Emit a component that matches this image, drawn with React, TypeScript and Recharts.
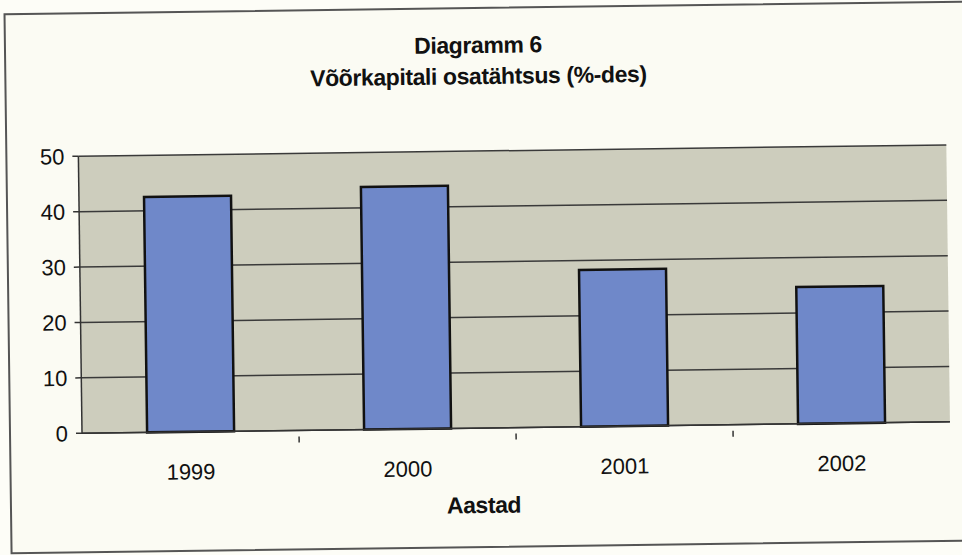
import React from 'react';
import { BarChart, Bar, XAxis, YAxis, CartesianGrid } from 'recharts';

const years = ['1999', '2000', '2001', '2002'];
const shares = [42.5, 43.8, 28.3, 24.7];
const yTicks = [0, 10, 20, 30, 40, 50];

const data = years.map((year, i) => ({ year, share: shares[i] }));

const FONT = 'Arial, "Liberation Sans", sans-serif';

// category label plus the Excel-style tick mark between categories
function YearTick(props: any) {
  const { x, y, payload, index } = props;
  const half = payload && payload.offset ? payload.offset : 0;
  return (
    <g>
      {index > 0 && (
        <line x1={x - half} x2={x - half} y1={y - 26} y2={y - 20} stroke="#333" strokeWidth={1.5} />
      )}
      <text x={x} y={y} dy="0.71em" textAnchor="middle" fontSize={22} fill="#111" fontFamily={FONT}>
        {payload.value}
      </text>
    </g>
  );
}

export default function App() {
  return (
    <div style={{ position: 'relative', width: 962, height: 555, background: '#fdfdf7', overflow: 'hidden' }}>
      <style>{`body { margin: 0; }`}</style>
      <div
        style={{
          position: 'absolute',
          left: 0,
          top: 0,
          width: 962,
          height: 555,
          transform: 'rotate(-0.75deg)',
          transformOrigin: '481px 277px',
        }}
      >
        <div
          style={{
            position: 'absolute',
            left: 7,
            top: 7,
            width: 975,
            height: 537,
            border: '2px solid #555',
            background: '#fbfbf3',
          }}
        />
        <div
          style={{
            position: 'absolute',
            left: 0,
            width: 962,
            top: 30,
            textAlign: 'center',
            fontFamily: FONT,
            fontWeight: 'bold',
            fontSize: 23,
            letterSpacing: '-0.4px',
            lineHeight: '31px',
            color: '#111',
          }}
        >
          <div>Diagramm 6</div>
          <div>Võõrkapitali osatähtsus (%-des)</div>
        </div>
        <div style={{ position: 'absolute', left: 0, top: 0 }}>
          <BarChart
            width={962}
            height={555}
            data={data}
            margin={{ top: 151, right: 14, bottom: 87, left: 8 }}
            barCategoryGap="30%"
          >
            <CartesianGrid vertical={false} stroke="#3a3a3a" strokeWidth={1.5} fill="#cdcdbd" />
            <XAxis
              dataKey="year"
              height={40}
              stroke="#333"
              strokeWidth={1.5}
              tickLine={false}
              tick={<YearTick />}
              tickMargin={26}
              interval={0}
            />
            <YAxis
              domain={[0, 50]}
              ticks={yTicks}
              width={72}
              stroke="#333"
              strokeWidth={1.5}
              tickSize={6}
              tickMargin={8}
              tick={{ fontSize: 22, fill: '#111', fontFamily: FONT }}
            />
            <YAxis
              yAxisId="right"
              orientation="right"
              domain={[0, 50]}
              width={0}
              tick={false}
              tickLine={false}
              stroke="#888"
            />
            <Bar dataKey="share" fill="#6f88c9" stroke="#111" strokeWidth={2.5} isAnimationActive={false} />
          </BarChart>
        </div>
        <div
          style={{
            position: 'absolute',
            left: 0,
            width: 962,
            top: 492,
            textAlign: 'center',
            fontFamily: FONT,
            fontWeight: 'bold',
            fontSize: 23,
            letterSpacing: '-0.4px',
            color: '#111',
          }}
        >
          Aastad
        </div>
      </div>
    </div>
  );
}
